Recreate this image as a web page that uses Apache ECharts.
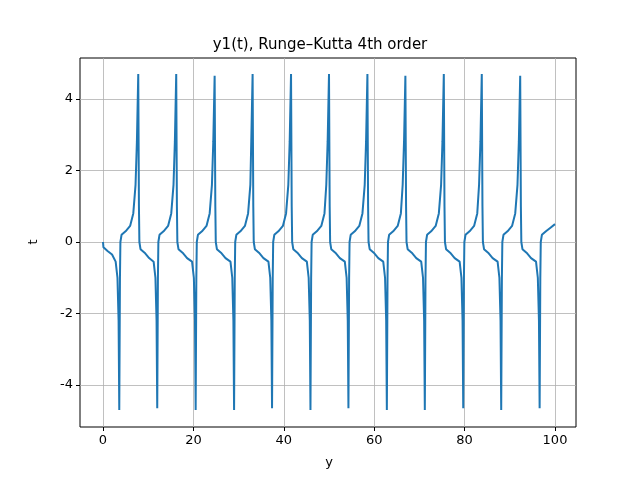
<!DOCTYPE html>
<html lang="en">
<head>
	<meta charset="utf-8">
	<title>y1(t), Runge–Kutta 4th order</title>
	<script src="https://cdn.jsdelivr.net/npm/echarts@6/dist/echarts.min.js"></script>
	<style>
		html, body { margin: 0; padding: 0; background: #fff; }
		#panel { width: 640px; height: 480px; }
	</style>
</head>
<body>
	<div id="panel"></div>
	<script type="text/javascript">
		// 图表数据
		const titleText = "y1(t), Runge–Kutta 4th order";
		const xTicks = [0, 20, 40, 60, 80, 100];
		const yTicks = [-4, -2, 0, 2, 4];
		// [t, y1] 采样点
		const samples = [
			[0,0],[0.1,-0.15],[1,-0.25],[2,-0.35],[2.8,-0.55],[3.2,-1.0],[3.45,-2.2],[3.6,-4.7],[3.75,-1.0],[3.85,0],[4.1,0.2],[5,0.3],[6,0.45],[6.7,0.8],[7.2,1.6],[7.5,2.8],[7.8,4.7],[7.95,1.0],[8.05,0],[8.3,-0.2],[9.2,-0.3],[10.2,-0.45],
			[11.2,-0.55],[11.6,-1.0],[11.85,-2.2],[12.0,-4.65],[12.15,-1.0],[12.25,0],[12.5,0.2],[13.4,0.3],[14.4,0.45],[15.1,0.8],[15.6,1.6],[15.9,2.8],[16.2,4.7],[16.35,1.0],[16.45,0],[16.7,-0.2],[17.6,-0.3],[18.6,-0.45],
			[19.7,-0.55],[20.1,-1.0],[20.35,-2.2],[20.5,-4.7],[20.65,-1.0],[20.75,0],[21.0,0.2],[21.9,0.3],[22.9,0.45],[23.6,0.8],[24.1,1.6],[24.4,2.8],[24.7,4.65],[24.85,1.0],[24.95,0],[25.2,-0.2],[26.1,-0.3],[27.1,-0.45],
			[28.2,-0.55],[28.6,-1.0],[28.85,-2.2],[29.0,-4.7],[29.15,-1.0],[29.25,0],[29.5,0.2],[30.4,0.3],[31.4,0.45],[32.1,0.8],[32.6,1.6],[32.8,2.8],[33.1,4.7],[33.25,1.0],[33.35,0],[33.6,-0.2],[34.5,-0.3],[35.5,-0.45],
			[36.6,-0.55],[37.0,-1.0],[37.25,-2.2],[37.4,-4.65],[37.55,-1.0],[37.65,0],[37.9,0.2],[38.8,0.3],[39.8,0.45],[40.5,0.8],[41.0,1.6],[41.3,2.8],[41.6,4.7],[41.75,1.0],[41.85,0],[42.1,-0.2],[43.0,-0.3],[44.0,-0.45],
			[45.1,-0.55],[45.5,-1.0],[45.75,-2.2],[45.9,-4.7],[46.05,-1.0],[46.15,0],[46.4,0.2],[47.3,0.3],[48.3,0.45],[49.0,0.8],[49.4,1.6],[49.7,2.8],[50.0,4.7],[50.15,1.0],[50.25,0],[50.5,-0.2],[51.4,-0.3],[52.4,-0.45],
			[53.5,-0.55],[53.9,-1.0],[54.15,-2.2],[54.3,-4.65],[54.45,-1.0],[54.55,0],[54.8,0.2],[55.7,0.3],[56.7,0.45],[57.4,0.8],[57.9,1.6],[58.2,2.8],[58.5,4.7],[58.65,1.0],[58.75,0],[59.0,-0.2],[59.9,-0.3],[60.9,-0.45],
			[62.0,-0.55],[62.4,-1.0],[62.65,-2.2],[62.8,-4.7],[62.95,-1.0],[63.05,0],[63.3,0.2],[64.2,0.3],[65.2,0.45],[65.9,0.8],[66.3,1.6],[66.6,2.8],[66.9,4.65],[67.05,1.0],[67.15,0],[67.4,-0.2],[68.3,-0.3],[69.3,-0.45],
			[70.4,-0.55],[70.8,-1.0],[71.05,-2.2],[71.2,-4.7],[71.35,-1.0],[71.45,0],[71.7,0.2],[72.6,0.3],[73.6,0.45],[74.3,0.8],[74.8,1.6],[75.1,2.8],[75.4,4.7],[75.55,1.0],[75.65,0],[75.9,-0.2],[76.8,-0.3],[77.8,-0.45],
			[78.9,-0.55],[79.3,-1.0],[79.55,-2.2],[79.7,-4.65],[79.85,-1.0],[79.95,0],[80.2,0.2],[81.1,0.3],[82.1,0.45],[82.8,0.8],[83.2,1.6],[83.5,2.8],[83.8,4.7],[83.95,1.0],[84.05,0],[84.3,-0.2],[85.2,-0.3],[86.2,-0.45],
			[87.3,-0.55],[87.7,-1.0],[87.95,-2.2],[88.1,-4.7],[88.25,-1.0],[88.35,0],[88.6,0.2],[89.5,0.3],[90.5,0.45],[91.2,0.8],[91.7,1.6],[92.0,2.8],[92.3,4.65],[92.45,1.0],[92.55,0],[92.8,-0.2],[93.7,-0.3],[94.7,-0.45],
			[95.8,-0.55],[96.2,-1.0],[96.45,-2.2],[96.6,-4.65],[96.75,-1.0],[96.85,0],[97.1,0.2],[98.0,0.3],[99.0,0.4],[100,0.5]
		];

		const font = "DejaVu Sans";
		const gridStyle = { show: true, lineStyle: { color: "#b0b0b0", width: 0.8 } };
		const tickStyle = { show: true, inside: false, length: 4, lineStyle: { color: "#000" } };
		const labelStyle = { color: "#000", fontFamily: font, fontSize: 13 };

		const panel = echarts.init(document.getElementById("panel"));
		// 0: x 轴所在（水平内缩、垂直外框）; 1: y 轴所在（水平外框、垂直内缩）; 2: 外框
		let option = {
			animation: false,
			title: {
				text: titleText, left: "center", top: 33,
				textStyle: { fontFamily: font, fontSize: 15, fontWeight: "normal", color: "#000" }
			},
			grid: [
				{ left: 103, right: 85, top: 58, bottom: 53 },
				{ left: 80, right: 64, top: 99, bottom: 95 },
				{ left: 80, right: 64, top: 58, bottom: 53, show: true, borderColor: "#000", borderWidth: 1, backgroundColor: "transparent" }
			],
			xAxis: [
				{
					gridIndex: 0, type: "value", min: 0, max: 100, interval: 20,
					axisLine: { show: false, onZero: false }, axisTick: tickStyle, splitLine: gridStyle,
					axisLabel: Object.assign({ margin: 7 }, labelStyle),
					name: "y", nameLocation: "middle", nameGap: 29,
					nameTextStyle: { fontFamily: font, fontSize: 13, color: "#000" }
				},
				{ gridIndex: 1, type: "value", min: 0, max: 1, show: false },
				{ gridIndex: 2, type: "value", min: 0, max: 1, show: false }
			],
			yAxis: [
				{ gridIndex: 0, type: "value", min: -5.175, max: 5.147, show: false },
				{
					gridIndex: 1, type: "value", min: yTicks[0], max: yTicks[yTicks.length - 1], interval: 2,
					axisLine: { show: false, onZero: false }, axisTick: tickStyle, splitLine: gridStyle,
					axisLabel: Object.assign({ margin: 7 }, labelStyle),
					name: "t", nameLocation: "middle", nameGap: 40,
					nameTextStyle: { fontFamily: font, fontSize: 13, color: "#000" }
				},
				{ gridIndex: 2, type: "value", min: 0, max: 1, show: false }
			],
			series: [{
				type: "line",
				xAxisIndex: 0, yAxisIndex: 0,
				data: samples,
				showSymbol: false,
				smooth: false,
				lineStyle: { color: "#1f77b4", width: 2 },
				z: 3
			}]
		};
		panel.setOption(option);
	</script>
</body>
</html>
